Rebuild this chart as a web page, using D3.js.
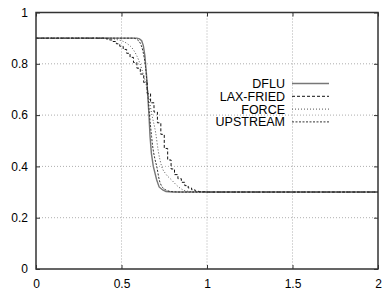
<!DOCTYPE html>
<html><head><meta charset="utf-8">
<script src="https://cdn.jsdelivr.net/npm/d3@7"></script>
<style>body{margin:0;background:#fff}</style></head>
<body><svg id="c" width="392" height="296"></svg>
<script>
const xTicks=[0,0.5,1,1.5,2];
const yTicks=[0,0.2,0.4,0.6,0.8,1];
const seriesNames=["DFLU","LAX-FRIED","FORCE","UPSTREAM"];
const dfluX=[0,0.59,0.605,0.618,0.628,0.637,0.647,0.653,0.66,0.667,0.675,0.686,0.706,0.72,0.741,0.76,0.8,2];
const dfluY=[0.9,0.9,0.897,0.89,0.87,0.83,0.75,0.68,0.607,0.516,0.45,0.40,0.347,0.32,0.308,0.302,0.3,0.3];
const laxX=[0,0.40,0.42,0.44,0.46,0.48,0.50,0.52,0.54,0.56,0.58,0.60,0.62,0.64,0.66,0.68,0.70,0.72,0.74,0.76,0.78,0.80,0.82,0.84,0.86,0.88,0.90,0.92,0.94,0.96,0.98,1.00,2];
const laxY=[0.9,0.9,0.897,0.893,0.887,0.878,0.868,0.856,0.841,0.825,0.805,0.783,0.760,0.727,0.685,0.648,0.612,0.570,0.525,0.470,0.425,0.390,0.368,0.352,0.338,0.325,0.316,0.309,0.304,0.302,0.301,0.300,0.3];
const forceX=[0,0.44,0.46,0.50,0.53,0.57,0.60,0.62,0.637,0.657,0.676,0.70,0.715,0.735,0.76,0.793,0.83,0.861,0.9,0.95,2];
const forceY=[0.9,0.9,0.896,0.89,0.88,0.854,0.815,0.776,0.737,0.68,0.607,0.53,0.46,0.40,0.37,0.347,0.322,0.308,0.302,0.3,0.3];
const upX=[0,0.57,0.59,0.61,0.625,0.64,0.65,0.663,0.676,0.682,0.695,0.706,0.721,0.74,0.76,0.79,0.85,2];
const upY=[0.9,0.9,0.895,0.88,0.85,0.79,0.72,0.607,0.516,0.48,0.43,0.40,0.347,0.318,0.308,0.302,0.3,0.3];

const svg=d3.select("#c");
const L=36,R=378,T=12.5,B=269;
const x=d3.scaleLinear().domain([0,2]).range([L,R]);
const y=d3.scaleLinear().domain([0,1]).range([B,T]);
const font="'Liberation Sans', Arial, Helvetica, sans-serif";

// grid
const g=svg.append("g");
g.selectAll(".gx").data(xTicks.slice(1,-1)).join("line")
 .attr("x1",d=>x(d)).attr("x2",d=>x(d)).attr("y1",T).attr("y2",B)
 .attr("stroke","#999").attr("stroke-width",0.8).attr("stroke-dasharray","1,2");
g.selectAll(".gy").data(yTicks.slice(1,-1)).join("line")
 .attr("y1",d=>y(d)).attr("y2",d=>y(d)).attr("x1",L).attr("x2",R)
 .attr("stroke","#999").attr("stroke-width",0.8).attr("stroke-dasharray","1,2");

// axes
const fmt=d=>String(d);
const ax=svg.append("g").attr("transform",`translate(0,${B})`)
 .call(d3.axisBottom(x).tickValues(xTicks).tickFormat(fmt).tickSize(-4).tickPadding(10));
const ay=svg.append("g").attr("transform",`translate(${L},0)`)
 .call(d3.axisLeft(y).tickValues(yTicks).tickFormat(fmt).tickSize(-4).tickPadding(8));
const at=svg.append("g").attr("transform",`translate(0,${T})`)
 .call(d3.axisTop(x).tickValues(xTicks).tickFormat("").tickSize(-4));
const ar=svg.append("g").attr("transform",`translate(${R},0)`)
 .call(d3.axisRight(y).tickValues(yTicks).tickFormat("").tickSize(-4));
[ax,ay,at,ar].forEach(a=>{
  a.select(".domain").remove();
  a.selectAll("line").attr("stroke","#333");
  a.selectAll("text").attr("font-family",font).attr("font-size",12).attr("fill","#000");
});

// series
const series=[
 {name:seriesNames[0],xs:dfluX,ys:dfluY,color:"#777",w:1.4,dash:null,curve:d3.curveLinear},
 {name:seriesNames[1],xs:laxX,ys:laxY,color:"#111",w:1,dash:"3,2",curve:d3.curveStep},
 {name:seriesNames[2],xs:forceX,ys:forceY,color:"#555",w:1,dash:"1,2",curve:d3.curveMonotoneX},
 {name:seriesNames[3],xs:upX,ys:upY,color:"#333",w:1,dash:"2,1.5",curve:d3.curveMonotoneX}
];
series.forEach(s=>{
  const pts=s.xs.map((v,i)=>[v,s.ys[i]]);
  svg.append("path").datum(pts)
   .attr("d",d3.line().x(d=>x(d[0])).y(d=>y(d[1])).curve(s.curve))
   .attr("fill","none").attr("stroke",s.color).attr("stroke-width",s.w)
   .attr("stroke-dasharray",s.dash);
});

// frame
svg.append("rect").attr("x",L).attr("y",T).attr("width",R-L).attr("height",B-T)
 .attr("fill","none").attr("stroke","#333").attr("stroke-width",1.5);

// legend
series.forEach((s,i)=>{
  const cy=83.5+i*12.8;
  svg.append("text").attr("x",285).attr("y",cy+4.5).attr("text-anchor","end")
   .attr("font-family",font).attr("font-size",12.5).text(s.name);
  svg.append("line").attr("x1",292).attr("x2",329).attr("y1",cy).attr("y2",cy)
   .attr("stroke",s.color).attr("stroke-width",s.w).attr("stroke-dasharray",s.dash);
});
</script></body></html>
